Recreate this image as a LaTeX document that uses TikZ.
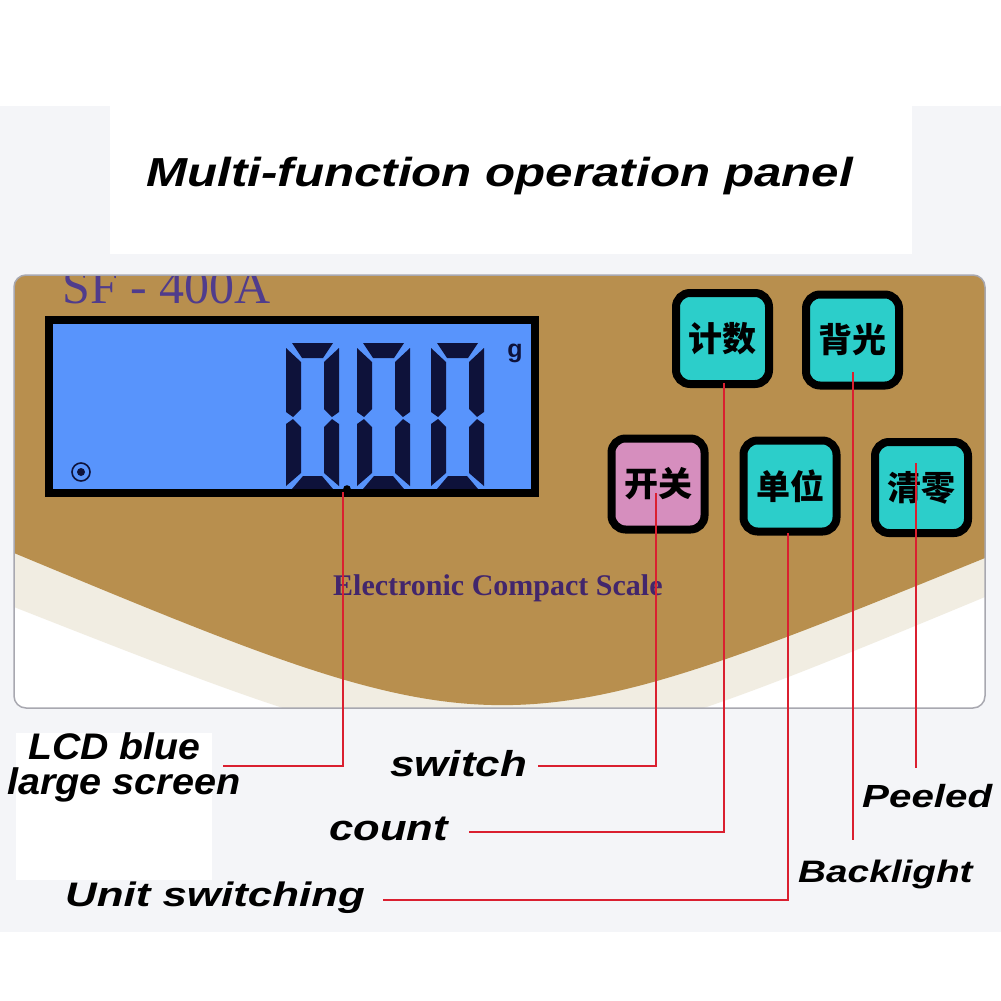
\documentclass[tikz,border=0pt]{standalone}
\usepackage{fontspec}
\setmainfont{Liberation Sans}
\newfontfamily\serifnm{Liberation Serif}
\newfontfamily\cjk{Noto Sans CJK SC}
\definecolor{bggray}{RGB}{244,245,248}
\definecolor{goldc}{RGB}{184,143,78}
\definecolor{creamc}{RGB}{241,237,226}
\definecolor{rimc}{RGB}{168,168,176}
\definecolor{lcdblue}{RGB}{88,148,252}
\definecolor{segnavy}{RGB}{14,18,58}
\definecolor{tealc}{RGB}{44,206,202}
\definecolor{pinkc}{RGB}{214,142,190}
\definecolor{leadred}{RGB}{218,32,48}
\definecolor{purpletxt}{RGB}{80,60,140}
\definecolor{darkpurple}{RGB}{66,38,108}
\tikzset{
  btn/.style={draw=black, line width=8pt, rounded corners=14pt, minimum width=93pt,
    minimum height=91pt, inner sep=0pt, font=\cjk\bfseries\fontsize{34}{34}\selectfont, text=black},
  tealkey/.style={btn, fill=tealc},
  pinkkey/.style={btn, fill=pinkc},
  lead/.style={draw=leadred, line width=1.8pt},
  lbl/.style={anchor=base west, inner sep=0pt},
  seg/.style={fill=segnavy},
}
\newcommand{\lcddigit}[2]{%
  \begin{scope}[shift={(#1,#2)}]
    \fill[seg] (6,0) -- (47,0) -- (37,15) -- (16,15) -- cycle;
    \fill[seg] (0,5) -- (15,19) -- (15,66) -- (7,74) -- (0,69) -- cycle;
    \fill[seg] (53,5) -- (38,19) -- (38,66) -- (46,74) -- (53,69) -- cycle;
    \fill[seg] (0,81) -- (7,76) -- (15,84) -- (15,130) -- (0,143) -- cycle;
    \fill[seg] (53,81) -- (46,76) -- (38,84) -- (38,130) -- (53,143) -- cycle;
    \fill[seg] (17,133) -- (36,133) -- (47,146) -- (6,146) -- cycle;
  \end{scope}}
\begin{document}
\begin{tikzpicture}[x=1pt, y=-1pt]
\useasboundingbox (0,0) rectangle (1001,1001);
% background
\fill[white] (0,0) rectangle (1001,1001);
\fill[bggray] (0,106) rectangle (1001,932);
\fill[white] (110,106) rectangle (912,254);
\fill[white] (16,733) rectangle (212,880);
% title
\node[anchor=base, inner sep=0pt, font=\bfseries\itshape\fontsize{40.5}{40.5}\selectfont] (title) at (499.5,186) {\scalebox{1.217}[1]{Multi-function operation panel}};
% panel
\fill[white, rounded corners=12pt] (14,275) rectangle (985,708);
\begin{scope}
  \clip[rounded corners=12pt] (14,275) rectangle (985,708);
  \fill[creamc] (0,540) -- (14,607) .. controls (500,798) .. (985,597) -- (1001,540) -- cycle;
  \fill[goldc] (14,553) .. controls (500,755) .. (985,558) -- (1001,558) -- (1001,260) -- (0,260) -- (0,553) -- cycle;
  \node[lbl, text=purpletxt, font=\serifnm\fontsize{50}{50}\selectfont] (model) at (62,303) {SF - 400A};
\end{scope}
\draw[rimc, line width=1.5pt, rounded corners=12pt] (14,275) rectangle (985,708);
\node[lbl, text=darkpurple, font=\serifnm\bfseries\fontsize{30}{30}\selectfont] (brand) at (333,595) {Electronic Compact Scale};
% LCD
\node[fill=lcdblue, minimum width=486pt, minimum height=173pt, inner sep=0pt, outer sep=0pt, anchor=north west] (lcd) at (49,320) {};
\lcddigit{286}{343}
\lcddigit{357}{343}
\lcddigit{431}{343}
\draw[black, line width=8pt] (lcd.north west) rectangle (lcd.south east);
\fill[black] (347,489) circle (3.8);
\node[text=segnavy, font=\bfseries\fontsize{25}{25}\selectfont, inner sep=0pt] (gunit) at (515,353) {g};
\node[draw=segnavy, line width=1.6pt, circle, minimum size=18pt, inner sep=0pt] (ring) at (81,472) {};
\fill[segnavy] (ring.center) circle (4);
% buttons
\node[tealkey] (bCount) at (722.5,338.5) {计数};
\node[tealkey] (bBack) at (852.5,340) {背光};
\node[pinkkey] (bSwitch) at (658,484) {开关};
\node[tealkey] (bUnit) at (790,486) {单位};
\node[tealkey] (bZero) at (921.5,487.5) {清零};
% labels
\node[lbl, font=\bfseries\itshape\fontsize{37}{37}\selectfont] (lLcdA) at (28,759) {\scalebox{1.06}[1]{LCD blue}};
\node[lbl, font=\bfseries\itshape\fontsize{37}{37}\selectfont] (lLcdB) at (7,794) {\scalebox{1.07}[1]{large screen}};
\node[lbl, font=\bfseries\itshape\fontsize{36}{36}\selectfont] (lSwitch) at (390,776) {\scalebox{1.22}[1]{switch}};
\node[lbl, font=\bfseries\itshape\fontsize{36}{36}\selectfont] (lCount) at (329,840) {\scalebox{1.21}[1]{count}};
\node[lbl, font=\bfseries\itshape\fontsize{34}{34}\selectfont] (lUnit) at (65,906) {\scalebox{1.29}[1]{Unit switching}};
\node[lbl, font=\bfseries\itshape\fontsize{31}{31}\selectfont] (lBack) at (798,882) {\scalebox{1.25}[1]{Backlight}};
\node[lbl, font=\bfseries\itshape\fontsize{32}{32}\selectfont] (lPeel) at (862,807) {\scalebox{1.26}[1]{Peeled}};
% leader line coordinates
\coordinate (sLcd) at (343,492);
\coordinate (eLcd) at (223,766);
\coordinate (sSw) at (656,493);
\coordinate (eSw) at (538,766);
\coordinate (sCo) at (724,383);
\coordinate (eCo) at (469,832);
\coordinate (sUn) at (788,533);
\coordinate (eUn) at (383,900);
\coordinate (sBa) at (853,372);
\coordinate (eBa) at (853,840);
\coordinate (sPe) at (916,463);
\coordinate (ePe) at (916,768);
\draw[lead] (sLcd) |- (eLcd);
\draw[lead] (sSw) |- (eSw);
\draw[lead] (sCo) |- (eCo);
\draw[lead] (sUn) |- (eUn);
\draw[lead] (sBa) -- (eBa);
\draw[lead] (sPe) -- (ePe);
\end{tikzpicture}
\end{document}
